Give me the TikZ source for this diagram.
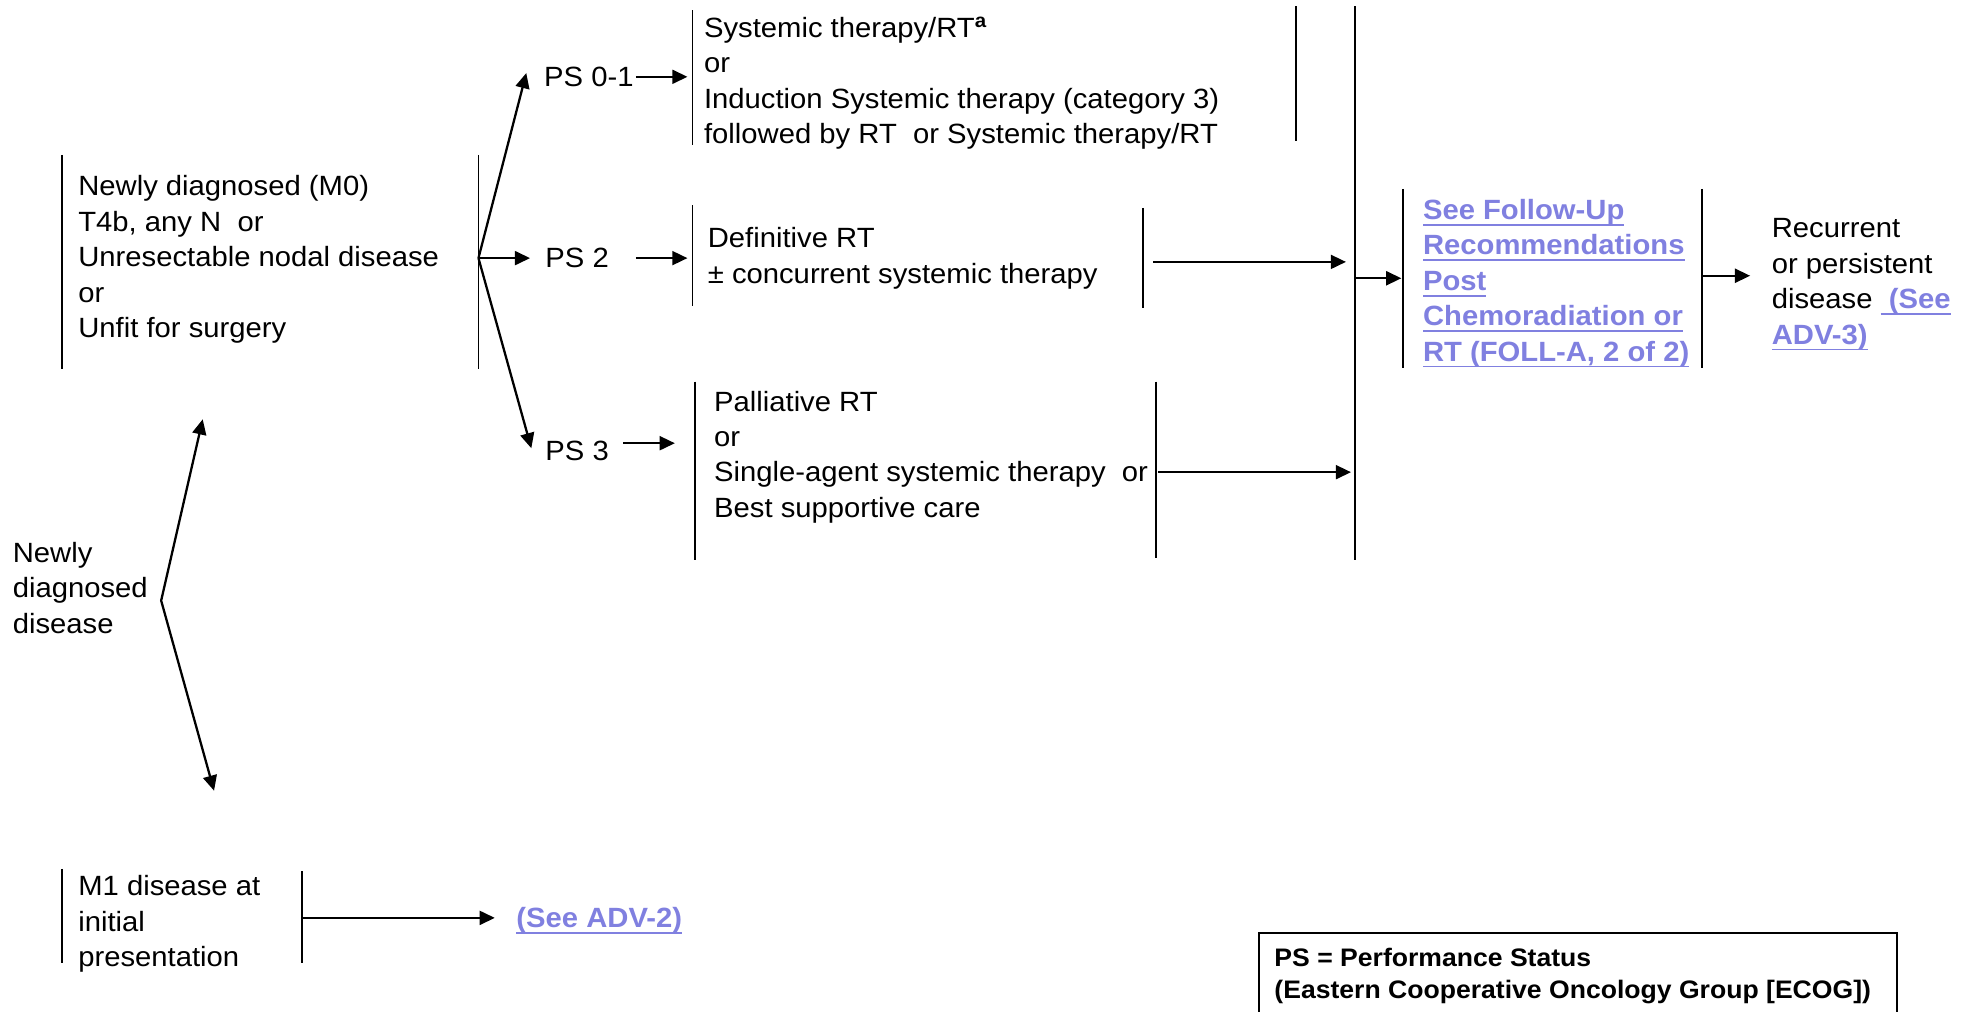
\documentclass[tikz,border=0pt]{standalone}
\usepackage{fontspec}
\setmainfont{Liberation Sans}[FakeStretch=1.05]
\usetikzlibrary{arrows.meta}
\definecolor{linkc}{RGB}{128,128,224}
\newlength\ulkw
\newcommand\ulk[1]{\settowidth{\ulkw}{#1}\rlap{\rule[-5pt]{\ulkw}{1.3pt}}#1}
\tikzset{
  txt/.style={inner sep=0pt, anchor=west, align=left, font=\fontsize{22}{28}\selectfont},
  linktxt/.style={txt, text=linkc, font=\fontsize{22}{28}\selectfont\bfseries},
  boldtxt/.style={txt, font=\fontsize{20}{25}\selectfont\bfseries},
  bar/.style={line width=1.4pt},
  arr/.style={line width=1.8pt, -{Triangle[length=12pt,width=11pt]}},
  arrboth/.style={line width=1.8pt, {Triangle[length=12pt,width=11pt]}-{Triangle[length=12pt,width=11pt]}}
}
\begin{document}
\begin{tikzpicture}[x=0.995pt,y=-0.995pt]
\useasboundingbox (0,0) rectangle (1567.8,803);

% initial node
\node[txt] (nd) at (10,467) {Newly\\diagnosed\\disease};
\coordinate (cu) at (161,333);
\coordinate (cv) at (128,477);
\coordinate (cd) at (170,628);
\draw[arrboth] (cu) -- (cv) -- (cd);

% M0 box
\node[txt] (m0) at (62,206) {Newly diagnosed (M0)\\T4b, any N\ \ or\\Unresectable nodal disease\\or\\Unfit for surgery};
\draw[bar] (49,123) -- (49,293);
\draw[bar] (380,123) -- (380,293);
\coordinate (fan) at (380,205);

% PS nodes
\node[txt] (ps01) at (432,61) {PS 0-1};
\node[txt] (ps2) at (433,205) {PS 2};
\node[txt] (ps3) at (433,358) {PS 3};
\coordinate (t01) at (418,58);
\coordinate (t2) at (421,205);
\coordinate (t3) at (422,356);
\draw[arr] (fan) -- (t01);
\draw[arr] (fan) -- (t2);
\draw[arr] (fan) -- (t3);

% box 1
\node[txt] (b1) at (559,66) {Systemic therapy/RT\textsuperscript{\textbf{a}}\\or\\Induction Systemic therapy (category 3)\\followed by RT\ \ or Systemic therapy/RT};
\draw[bar] (550,8) -- (550,115);
\draw[bar] (1029,5) -- (1029,112);
\coordinate (a1s) at (505,61);
\coordinate (a1e) at (546,61);
\draw[arr] (a1s) -- (a1e);

% box 2
\node[txt] (b2) at (562,205) {Definitive RT\\± concurrent systemic therapy};
\draw[bar] (550,163) -- (550,243);
\draw[bar] (908,165) -- (908,245);
\coordinate (a2s) at (505,205);
\coordinate (a2e) at (546,205);
\draw[arr] (a2s) -- (a2e);
\coordinate (o2s) at (916,208);
\coordinate (o2e) at (1069,208);
\draw[arr] (o2s) -- (o2e);

% box 3
\node[txt] (b3) at (567,363) {Palliative RT\\or\\Single-agent systemic therapy\ \ or\\Best supportive care};
\draw[bar] (552,303) -- (552,445);
\draw[bar] (918,303) -- (918,443);
\coordinate (a3s) at (495,352);
\coordinate (a3e) at (536,352);
\draw[arr] (a3s) -- (a3e);
\coordinate (o3s) at (920,375);
\coordinate (o3e) at (1073,375);
\draw[arr] (o3s) -- (o3e);

% big collector line
\draw[bar] (1076,5) -- (1076,445);
\coordinate (cs) at (1076,221);
\coordinate (ce) at (1113,221);
\draw[arr] (cs) -- (ce);

% follow-up box
\node[linktxt] (fu) at (1130,225) {\ulk{See Follow-Up}\\\ulk{Recommendations}\\\ulk{Post}\\\ulk{Chemoradiation or}\\\ulk{RT (FOLL-A, 2 of 2)}};
\draw[bar] (1114,150) -- (1114,292);
\draw[bar] (1352,150) -- (1352,292);
\coordinate (fs) at (1352,219);
\coordinate (fe) at (1390,219);
\draw[arr] (fs) -- (fe);

% recurrent
\node[txt] (rec) at (1407,226) {Recurrent\\or persistent\\disease {\color{linkc}\bfseries\ulk{\ (See}}\\{\color{linkc}\bfseries\ulk{ADV-3)}}};

% M1 box
\node[txt] (m1) at (62,734) {M1 disease at\\initial\\presentation};
\draw[bar] (49,690) -- (49,765);
\draw[bar] (240,692) -- (240,765);
\coordinate (m1s) at (240,729);
\coordinate (m1e) at (393,729);
\draw[arr] (m1s) -- (m1e);
\node[linktxt] (adv2) at (410,731) {\ulk{(See ADV-2)}};

% legend
\draw[line width=1.6pt] (1000,810) -- (1000,741) -- (1507,741) -- (1507,810);
\node[boldtxt] (leg) at (1012,775) {PS = Performance Status\\(Eastern Cooperative Oncology Group [ECOG])};
\end{tikzpicture}
\end{document}
